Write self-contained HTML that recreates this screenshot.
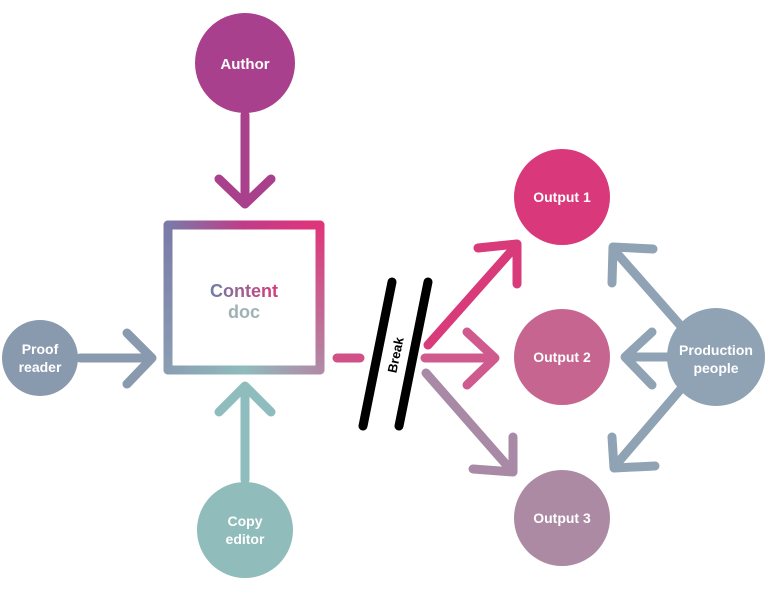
<!DOCTYPE html>
<html><head><meta charset="utf-8"><style>
html,body{margin:0;padding:0;background:#fff;}
svg{display:block;}
text{font-family:"Liberation Sans",sans-serif;font-weight:bold;fill:#fff;text-anchor:middle;}
</style></head><body>
<svg width="768" height="593" viewBox="0 0 768 593" xmlns="http://www.w3.org/2000/svg">
<defs>
<linearGradient id="gt" gradientUnits="userSpaceOnUse" x1="168" y1="0" x2="320" y2="0">
<stop offset="0" stop-color="#7a7aa8"/><stop offset="0.5" stop-color="#c03c88"/><stop offset="1" stop-color="#e0357a"/>
</linearGradient>
<linearGradient id="gl" gradientUnits="userSpaceOnUse" x1="0" y1="225" x2="0" y2="370">
<stop offset="0" stop-color="#7a7aa8"/><stop offset="1" stop-color="#8a9eb2"/>
</linearGradient>
<linearGradient id="gb" gradientUnits="userSpaceOnUse" x1="168" y1="0" x2="320" y2="0">
<stop offset="0" stop-color="#8a9eb2"/><stop offset="0.5" stop-color="#8fbcbc"/><stop offset="1" stop-color="#b08aa6"/>
</linearGradient>
<linearGradient id="gr" gradientUnits="userSpaceOnUse" x1="0" y1="225" x2="0" y2="370">
<stop offset="0" stop-color="#e0357a"/><stop offset="1" stop-color="#b08aa6"/>
</linearGradient>
<linearGradient id="tx" x1="0" y1="0" x2="1" y2="0">
<stop offset="0" stop-color="#6f7fa6"/><stop offset="1" stop-color="#d63a7c"/>
</linearGradient>
</defs>
<g fill="none" stroke-width="9" stroke-linecap="round" stroke-linejoin="round">
<path d="M168 370 V225" stroke="url(#gl)"/>
<path d="M320 225 V370" stroke="url(#gr)"/>
<path d="M168 225 H320" stroke="url(#gt)"/>
<path d="M168 370 H320" stroke="url(#gb)"/>
<g stroke="#a8408c"><path d="M245 115 V203"/><path d="M219 179 L245 204 L271 179"/></g>
<g stroke="#8a9aae"><path d="M80 358 H150"/><path d="M127 333 L152 358 L127 384"/></g>
<g stroke="#8fbcbc"><path d="M245 480 V388"/><path d="M219 412 L245 386 L271 412"/></g>
<path d="M337 358 H360" stroke="#d05088"/>
<g stroke="#000"><path d="M363 426 L392 282"/><path d="M399 426 L428 282"/></g>
<g stroke="#d83a7a"><path d="M428 345 L515 247"/><path d="M478 248 L517 244 L517 284"/></g>
<g stroke="#cf5a8e"><path d="M425 358 H494"/><path d="M467 332 L495 358 L467 385"/></g>
<g stroke="#a98aa6"><path d="M426 373 L511 470"/><path d="M473 469 L513 472 L513 437"/></g>
<g stroke="#8fa3b5">
<path d="M680 325 L614 250"/><path d="M653 249 L613 247 L612 283"/>
<path d="M680 357 H627"/><path d="M652 332 L625 357 L652 385"/>
<path d="M680 390 L615 466"/><path d="M612 437 L614 468 L655 466"/>
</g>
</g>
<circle cx="245" cy="63" r="50" fill="#a9408d"/>
<circle cx="40" cy="358" r="38" fill="#8a9aae"/>
<circle cx="245" cy="530" r="48" fill="#90bcbb"/>
<circle cx="562" cy="197" r="48" fill="#d9387a"/>
<circle cx="562" cy="357" r="48" fill="#c66690"/>
<circle cx="562" cy="518" r="48" fill="#ad8aa4"/>
<circle cx="716" cy="357" r="49" fill="#8fa3b5"/>
<text x="245" y="69" font-size="15">Author</text>
<text x="40" y="354" font-size="14">Proof</text>
<text x="40" y="372" font-size="14">reader</text>
<text x="245" y="526" font-size="14">Copy</text>
<text x="245" y="544" font-size="14">editor</text>
<text x="562" y="202" font-size="14">Output 1</text>
<text x="562" y="362" font-size="14">Output 2</text>
<text x="562" y="523" font-size="14">Output 3</text>
<text x="716" y="355" font-size="14">Production</text>
<text x="716" y="373" font-size="14">people</text>
<text x="244" y="297" font-size="18" style="fill:url(#tx)">Content</text>
<text x="244" y="318" font-size="18" style="fill:#9fb3b5">doc</text>
<text x="0" y="0" font-size="13" style="fill:#000" transform="translate(400,356) rotate(-78)">Break</text>
</svg>
</body></html>
